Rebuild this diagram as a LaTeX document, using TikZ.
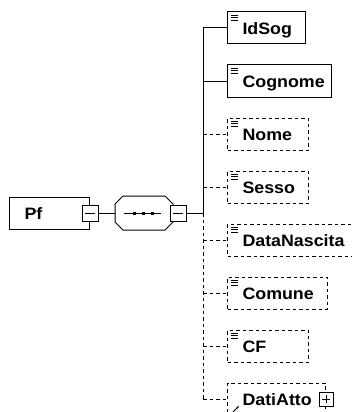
\documentclass[tikz,border=0pt]{standalone}
\usepackage{fontspec}
\setmainfont{Liberation Sans}[FakeStretch=1.08]
\usetikzlibrary{arrows.meta}

\tikzset{
	elem/.style={draw, line width=1pt, anchor=west, minimum height=32pt, inner xsep=15pt, inner ysep=0pt,
		text width=#1, align=left, text height=15pt, text depth=2pt, font=\fontsize{16.5}{18}\selectfont\bfseries},
	optelem/.style={elem=#1, dash pattern=on 3.5pt off 3pt},
	minusbox/.style={draw, line width=1pt, fill=white, minimum size=16pt, inner sep=0pt,
		path picture={\draw[line width=1pt] ([xshift=3pt]path picture bounding box.west) -- ([xshift=-3pt]path picture bounding box.east);}},
	plusbox/.style={draw, line width=1pt, fill=white, minimum size=14pt, inner sep=0pt,
		path picture={\draw[line width=1pt] ([xshift=3pt]path picture bounding box.west) -- ([xshift=-3pt]path picture bounding box.east);
			\draw[line width=1pt] ([yshift=3pt]path picture bounding box.south) -- ([yshift=-3pt]path picture bounding box.north);}},
	seqbox/.style={minimum width=58pt, minimum height=34pt, inner sep=0pt, outer sep=0pt},
	link/.style={line width=1pt},
	optlink/.style={link, dash pattern=on 3.5pt off 3pt},
}

\begin{document}
\begin{tikzpicture}[x=1pt, y=-1pt]
	\useasboundingbox (0,0) rectangle (351,412);

	\node[elem=50pt] (Pf) at (9,213) {Pf};
	\node[minusbox] (Pfcol) at (Pf.east) {};
	\node[seqbox] (Seq) at (144,213) {};

	% sequence symbol
	\draw[link] ([xshift=8pt]Seq.north west) -- ([xshift=-8pt]Seq.north east)
		-- ([yshift=-8pt]Seq.north east) -- ([yshift=8pt]Seq.south east)
		-- ([xshift=-8pt]Seq.south east) -- ([xshift=8pt]Seq.south west)
		-- ([yshift=8pt]Seq.south west) -- ([yshift=-8pt]Seq.north west) -- cycle;
	\draw[link] ([xshift=-20pt]Seq.center) -- ([xshift=17pt]Seq.center);
	\foreach \dx in {-10,-1,8}
		\fill ([shift={(\dx-1.5,-1.5)}]Seq.center) rectangle +(3,3);

	\node[minusbox] (Seqcol) at ([xshift=5pt]Seq.east) {};
	\coordinate (Trunk) at (203,213);

	\node[elem=48pt] (IdSog) at (227,28) {IdSog};
	\node[elem=74pt] (Cognome) at (227,81) {Cognome};
	\node[optelem=51pt] (Nome) at (227,134) {Nome};
	\node[optelem=51pt] (Sesso) at (227,187) {Sesso};
	\node[optelem=110pt] (DataNascita) at (227,240) {DataNascita};
	\node[optelem=70pt] (Comune) at (227,293) {Comune};
	\node[optelem=51pt] (CF) at (227,346) {CF};
	\node[optelem=68pt] (DatiAtto) at (227,399) {DatiAtto};
	\node[plusbox] (DatiAttocol) at (DatiAtto.east) {};

	% element icons
	\foreach \n in {IdSog,Cognome,Nome,Sesso,DataNascita,Comune,CF}
		\foreach \dy in {3.5,6,8.5}
			\draw[line width=0.8pt] ([shift={(4,\dy)}]\n.north west) -- +(7,0);
	\draw[-{Stealth[length=3pt]}, line width=1pt] ([shift={(6,13)}]DatiAtto.west) -- +(6,-6);

	\draw[link] (Pfcol) -- (Seq);
	\draw[link] (Seqcol) -- (Trunk);
	\draw[link] (Trunk |- IdSog.west) -- (Trunk);
	\draw[optlink] (Trunk) -- (Trunk |- DatiAtto.west);

	\draw[link] (Trunk |- IdSog.west) -- (IdSog);
	\draw[link] (Trunk |- Cognome.west) -- (Cognome);
	\draw[optlink] (Trunk |- Nome.west) -- (Nome);
	\draw[optlink] (Trunk |- Sesso.west) -- (Sesso);
	\draw[optlink] (Trunk |- DataNascita.west) -- (DataNascita);
	\draw[optlink] (Trunk |- Comune.west) -- (Comune);
	\draw[optlink] (Trunk |- CF.west) -- (CF);
	\draw[optlink] (Trunk |- DatiAtto.west) -- (DatiAtto);

\end{tikzpicture}
\end{document}
